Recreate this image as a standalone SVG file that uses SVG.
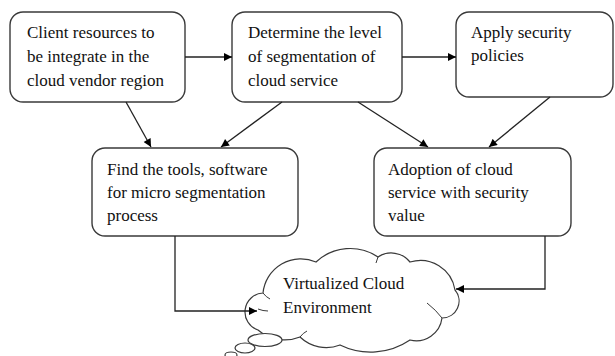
<svg xmlns="http://www.w3.org/2000/svg" width="615" height="356" viewBox="0 0 615 356">
  <defs>
    <marker id="arrow" viewBox="0 0 10 10" refX="10" refY="5" markerWidth="9" markerHeight="8" markerUnits="userSpaceOnUse" orient="auto">
      <path d="M0,0 L10,5 L0,10 Z" fill="#000"/>
    </marker>
    <style>
      .box { fill: #fff; stroke: #3a3a3a; stroke-width: 1.4; }
      .label { font-family: "Liberation Serif", "Times New Roman", serif; font-size: 17px; fill: #111; }
      .edge { fill: none; stroke: #222; stroke-width: 1.3; marker-end: url(#arrow); }
      .cloud { fill: #fff; stroke: #3a3a3a; stroke-width: 1.2; }
      .seam { fill: none; stroke: #3a3a3a; stroke-width: 1; }
    </style>
  </defs>
  <rect width="615" height="356" fill="#fff"/>

  <g id="client-resources">
    <rect class="box" x="10" y="12" width="175" height="90" rx="13"/>
    <text class="label" x="27" y="38">Client resources to</text>
    <text class="label" x="27" y="62">be integrate in the</text>
    <text class="label" x="27" y="86">cloud vendor region</text>
  </g>

  <g id="segmentation-level">
    <rect class="box" x="232" y="12" width="170" height="90" rx="13"/>
    <text class="label" x="248" y="38">Determine the level</text>
    <text class="label" x="248" y="62">of segmentation of</text>
    <text class="label" x="248" y="86">cloud service</text>
  </g>

  <g id="security-policies">
    <rect class="box" x="456" y="12" width="157" height="85" rx="13"/>
    <text class="label" x="471" y="38">Apply security</text>
    <text class="label" x="471" y="61">policies</text>
  </g>

  <g id="micro-segmentation-tools">
    <rect class="box" x="92" y="148" width="206" height="88" rx="13"/>
    <text class="label" x="107" y="175">Find the tools, software</text>
    <text class="label" x="107" y="198">for micro segmentation</text>
    <text class="label" x="107" y="221">process</text>
  </g>

  <g id="cloud-adoption">
    <rect class="box" x="374" y="148" width="197" height="88" rx="13"/>
    <text class="label" x="388" y="175">Adoption of cloud</text>
    <text class="label" x="388" y="198">service with security</text>
    <text class="label" x="388" y="221">value</text>
  </g>

  <g id="virtualized-cloud">
    <!-- scalloped outline, drawn clockwise from the lower-left lobe -->
    <path class="cloud" d="M258,330
      A19,19 0 0 1 263,293
      A38,38 0 0 1 316,262
      A50,50 0 0 1 378,257
      A24,24 0 0 1 410,262
      A35,35 0 0 1 455,290
      A17,17 0 0 1 442,318
      A26,26 0 0 1 410,340
      A70,70 0 0 1 340,345
      A38,38 0 0 1 300,337
      A41,41 0 0 1 258,330 Z"/>
    <path class="seam" d="M258,309 Q263,311 268,311"/>
    <path class="seam" d="M263,293 Q266,297 270,299"/>
    <path class="seam" d="M378,257 Q377,260 376,263"/>
    <path class="seam" d="M442,318 Q436,310 427,303"/>
    <path class="seam" d="M300,337 Q303,333 307,331"/>
    <ellipse class="cloud" cx="265" cy="340" rx="17" ry="6.5"/>
    <ellipse class="cloud" cx="245" cy="348" rx="10" ry="5"/>
    <ellipse class="cloud" cx="231" cy="355" rx="6" ry="3"/>
    <text class="label" x="283" y="289">Virtualized Cloud</text>
    <text class="label" x="283" y="313">Environment</text>
  </g>

  <g id="connectors">
    <line class="edge" x1="185" y1="57" x2="232" y2="57"/>
    <line class="edge" x1="402" y1="57" x2="456" y2="57"/>
    <line class="edge" x1="126" y1="102" x2="151" y2="147"/>
    <line class="edge" x1="282" y1="102" x2="221" y2="147"/>
    <line class="edge" x1="358" y1="102" x2="428" y2="147"/>
    <line class="edge" x1="550" y1="97" x2="489" y2="147"/>
    <polyline class="edge" points="175,236 175,311 257,311"/>
    <polyline class="edge" points="545,236 545,289 456,289"/>
  </g>
</svg>
